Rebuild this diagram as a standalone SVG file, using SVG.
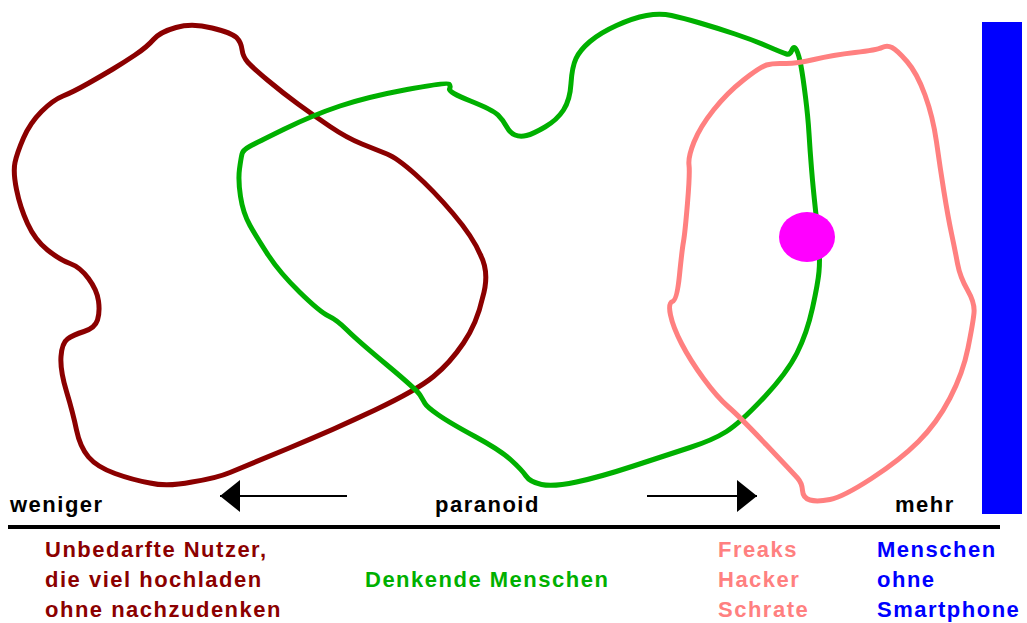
<svg xmlns="http://www.w3.org/2000/svg" width="1027" height="623" viewBox="0 0 1027 623">
<style>
.blob{fill:none;stroke-width:5;stroke-linejoin:round;stroke-linecap:round}
.t{font-family:"Liberation Sans",Arial,sans-serif;font-weight:bold;font-size:22px;letter-spacing:1.5px}
</style>
<defs>
<marker id="ah" markerWidth="20" markerHeight="32" refX="20" refY="16" orient="auto" markerUnits="userSpaceOnUse">
<path d="M0,0 L20,16 L0,32 Z" fill="#000"/>
</marker>
</defs>
<rect width="1027" height="623" fill="#fff"/>
<g id="blob-red">
<path class="blob" stroke="#8b0000" d="M176,27.5 Q192,23 212,28 Q232,33 236.5,37.5 Q241,42 242,49.5 Q243,57 248,62.5 Q253,68 268,80.5 Q283,93 298,104 Q313,115 330,126.5 Q347,138 362,144 Q377,150 387,154 Q397,158 415,174 Q433,190 453,213.5 Q473,237 480.5,255 Q490,273 482.5,298 Q477,323 463.5,343 Q450,363 433.5,376.5 Q417,390 375,410 Q333,430 288,448.5 Q243,467 230,472.5 Q217,478 192,482 Q167,487 150,483 Q133,480 115,473.5 Q97,467 88.5,457 Q80,447 76.5,430 Q73,413 66.5,391.5 Q60,370 61,356.5 Q62,343 67.5,339 Q73,335 84,331.5 Q95,328 97.5,320 Q100,312 98.5,301 Q97,290 88.5,278.5 Q80,267 70,263.5 Q60,260 47.5,250 Q35,240 27.5,223.5 Q20,207 16.5,189.5 Q13,172 15,162.5 Q17,153 23.5,138 Q30,123 41.5,111.5 Q53,100 63,96 Q73,92 88,83.5 Q103,75 113,69 Q123,63 135,55 Q147,47 153.5,39.5 Q160,32 176,27.5 Z"/>
</g>
<g id="blob-green">
<path class="blob" stroke="#00b000" d="M242,154 Q243,150 249.5,146.5 Q256,143 284.5,129 Q313,115 340,106 Q367,97 407,89.5 Q447,82 449,84 Q451,86 449.5,89 Q448,92 470.5,101 Q493,110 498,115 Q503,120 506.5,126.5 Q510,133 515,135 Q520,137 526.5,135.5 Q533,134 545,127 Q557,120 563.5,110 Q570,100 571,83.5 Q572,67 576,58.5 Q580,50 590,41.5 Q600,33 616.5,25.5 Q633,18 646.5,15.5 Q660,13 671.5,15.5 Q683,18 700,23 Q717,28 735,34 Q753,40 768,46.5 Q783,53 786.5,54 Q790,55 792,50 Q794,45 796.5,50 Q799,55 801,66 Q803,77 805.5,97 Q808,117 809,133.5 Q810,150 811.5,168.5 Q813,187 815.5,210 Q818,233 819,246.5 Q820,260 819,271.5 Q818,283 812.5,308 Q807,333 797,353 Q787,373 763.5,398 Q740,423 726.5,431.5 Q713,440 690,447.5 Q667,455 633.5,466 Q600,477 576.5,482 Q553,487 541.5,484.5 Q530,482 526,476 Q522,470 511,460 Q500,450 475,436.5 Q450,423 438.5,415 Q427,407 425,403.5 Q423,400 420,395 Q417,390 387,365 Q357,340 347,330 Q337,320 328.5,316 Q320,312 300,292.5 Q280,273 268.5,255.5 Q257,238 250,225.5 Q243,213 240.5,196.5 Q238,180 239.5,169 Q241,158 242,154 Z"/>
</g>
<g id="blob-pink">
<path class="blob" stroke="#ff8080" d="M689,165 Q688,157 694,142 Q700,127 713.5,110 Q727,93 743.5,80 Q760,67 766.5,65 Q773,63 784,63.5 Q795,64 814,59.5 Q833,55 855,52.5 Q877,50 882,47.5 Q887,45 892,47.5 Q897,50 907,61.5 Q917,73 925,95 Q933,117 936.5,142 Q940,167 944,192 Q948,217 951.5,233.5 Q955,250 957.5,263.5 Q960,277 967.5,290 Q975,303 974,313 Q973,323 968,348 Q963,373 950,398 Q937,423 918.5,441.5 Q900,460 871.5,478.5 Q843,497 830,499.5 Q817,502 810,500 Q803,498 802.5,490.5 Q802,483 797.5,478 Q793,473 766.5,445 Q740,417 728.5,407 Q717,397 703.5,378.5 Q690,360 681.5,343.5 Q673,327 670.5,315 Q668,303 672.5,301.5 Q677,300 679.5,275 Q682,250 683.5,241.5 Q685,233 687.5,203 Q690,173 689,165 Z"/>
</g>
<g id="dot">
<ellipse cx="807" cy="237" rx="28" ry="25" fill="#ff00ff"/>
</g>
<g id="bar">
<rect x="982" y="22" width="40" height="492" fill="#0000ff"/>
</g>
<g id="connectors">
<line x1="347" y1="496" x2="220" y2="496" stroke="#000" stroke-width="2" marker-end="url(#ah)"/>
<line x1="647" y1="496" x2="757" y2="496" stroke="#000" stroke-width="2" marker-end="url(#ah)"/>
<line x1="8" y1="527" x2="1000" y2="527" stroke="#000" stroke-width="4"/>
</g>
<g id="labels">
<text class="t" x="10" y="512" fill="#000">weniger</text>
<text class="t" x="435" y="512" fill="#000">paranoid</text>
<text class="t" x="895" y="512" fill="#000">mehr</text>
<text class="t" x="45" y="557" fill="#8b0000">Unbedarfte Nutzer,</text>
<text class="t" x="45" y="587" fill="#8b0000">die viel hochladen</text>
<text class="t" x="45" y="617" fill="#8b0000">ohne nachzudenken</text>
<text class="t" x="365" y="587" fill="#00b000">Denkende Menschen</text>
<text class="t" x="718" y="557" fill="#ff8080">Freaks</text>
<text class="t" x="718" y="587" fill="#ff8080">Hacker</text>
<text class="t" x="718" y="617" fill="#ff8080">Schrate</text>
<text class="t" x="877" y="557" fill="#0000ff">Menschen</text>
<text class="t" x="877" y="587" fill="#0000ff">ohne</text>
<text class="t" x="877" y="617" fill="#0000ff">Smartphone</text>
</g>
</svg>
